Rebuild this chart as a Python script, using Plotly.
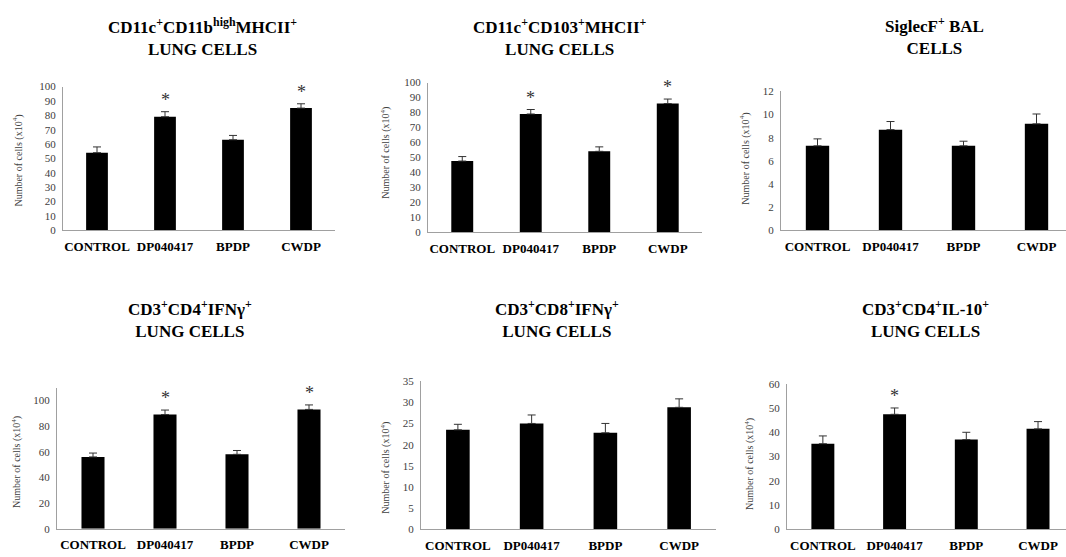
import plotly.graph_objects as go

W, H = 1066, 557

categories = ["CONTROL", "DP040417", "BPDP", "CWDP"]

titles = [
    "<b>CD11c<sup>+</sup>CD11b<sup>high</sup>MHCII<sup>+</sup><br>LUNG CELLS</b>",
    "<b>CD11c<sup>+</sup>CD103<sup>+</sup>MHCII<sup>+</sup><br>LUNG CELLS</b>",
    "<b>SiglecF<sup>+</sup> BAL<br>CELLS</b>",
    "<b>CD3<sup>+</sup>CD4<sup>+</sup>IFNγ<sup>+</sup><br>LUNG CELLS</b>",
    "<b>CD3<sup>+</sup>CD8<sup>+</sup>IFNγ<sup>+</sup><br>LUNG CELLS</b>",
    "<b>CD3<sup>+</sup>CD4<sup>+</sup>IL-10<sup>+</sup><br>LUNG CELLS</b>",
]

cd11b_values = [54, 79, 63, 85]
cd11b_errors = [4, 3.5, 3, 3]
cd11b_sig = [False, True, False, True]

cd103_values = [47.5, 79, 54, 86]
cd103_errors = [3, 3, 3, 3]
cd103_sig = [False, True, False, True]

siglec_values = [7.3, 8.7, 7.3, 9.2]
siglec_errors = [0.6, 0.7, 0.4, 0.85]
siglec_sig = [False, False, False, False]

cd4ifn_values = [56, 89, 58, 93]
cd4ifn_errors = [3, 3.5, 3, 3.5]
cd4ifn_sig = [False, True, False, True]

cd8ifn_values = [23.5, 25, 22.8, 28.8]
cd8ifn_errors = [1.3, 2, 2.2, 2]
cd8ifn_sig = [False, False, False, False]

il10_values = [35.3, 47.4, 37, 41.4]
il10_errors = [3.2, 2.6, 3, 3]
il10_sig = [False, True, False, False]

y_ranges = [[0, 100], [0, 100], [0, 12], [0, 110], [0, 35], [0, 60]]
y_dticks = [10, 10, 2, 20, 5, 10]
y_tickmax = [100, 100, 12, 100, 35, 60]

series = [
    (cd11b_values, cd11b_errors, cd11b_sig),
    (cd103_values, cd103_errors, cd103_sig),
    (siglec_values, siglec_errors, siglec_sig),
    (cd4ifn_values, cd4ifn_errors, cd4ifn_sig),
    (cd8ifn_values, cd8ifn_errors, cd8ifn_sig),
    (il10_values, il10_errors, il10_sig),
]

# layout geometry in pixels: (x0, x1, ytop, ybottom, xrange_max)
geom = [
    (63, 335, 82.3, 229.3, 3.5),
    (428, 702, 78.3, 231, 3.5),
    (781, 1066, 87.3, 229.3, 3.404),
    (57, 345, 390, 534.3, 3.5),
    (421, 716, 383.3, 535, 3.5),
    (787, 1066, 386, 535, 3.39),
]
title_pos = [(202, 32), (560, 32), (934, 31), (190, 320), (557, 320), (925, 320)]
ytitle_pos = [(18, 158), (386, 150), (745, 156), (17, 466), (386, 472), (750, 468)]

SERIF = "Liberation Serif"

fig = go.Figure()
annotations = []
for i, ((vals, errs, sig), (x0, x1, yt, yb, xmax)) in enumerate(zip(series, geom)):
    n = "" if i == 0 else str(i + 1)
    xa, ya = "x" + n, "y" + n
    fig.add_trace(go.Bar(
        x=categories, y=vals, xaxis=xa, yaxis=ya,
        marker=dict(color="black", line=dict(width=0)),
        width=0.32,
        error_y=dict(type="data", array=errs, symmetric=False,
                     arrayminus=[0] * len(errs), color="#333333",
                     thickness=1, width=4),
        showlegend=False,
    ))
    for c, v, e, s in zip(categories, vals, errs, sig):
        if s:
            annotations.append(dict(
                x=c, y=v + e, xref=xa, yref=ya, text="*", showarrow=False,
                yanchor="bottom", yshift=0,
                font=dict(family=SERIF, size=18, color="#333333"),
            ))
    ylo, yhi = y_ranges[i]
    tickvals = list(range(0, y_tickmax[i] + 1, y_dticks[i]))
    fig.update_layout(**{
        ("xaxis" + n): dict(
            domain=[x0 / W, x1 / W], anchor=ya, range=[-0.5, xmax],
            showline=True, linecolor="#a0a0a0", linewidth=1,
            showgrid=False, zeroline=False, ticks="",
            tickvals=categories,
            ticktext=["<b>" + c + "</b>" for c in categories],
            tickfont=dict(family=SERIF, size=13, color="black"),
            ticklabelstandoff=4,
        ),
        ("yaxis" + n): dict(
            domain=[1 - yb / H, 1 - yt / H], anchor=xa, range=[ylo, yhi],
            tickvals=tickvals,
            showline=True, linecolor="#a0a0a0", linewidth=1,
            showgrid=False, zeroline=False, ticks="",
            tickfont=dict(family=SERIF, size=11, color="#404040"),
            ticklabelstandoff=4,
        ),
    })
    tx, ty = title_pos[i]
    annotations.append(dict(
        x=tx / W, y=1 - ty / H, xref="paper", yref="paper", text=titles[i],
        showarrow=False, xanchor="center", yanchor="middle",
        font=dict(family=SERIF, size=17, color="black"),
    ))
    ax_, ay_ = ytitle_pos[i]
    annotations.append(dict(
        x=ax_ / W, y=1 - ay_ / H, xref="paper", yref="paper",
        text="Number of cells (x10<sup>4</sup>)", textangle=-90,
        showarrow=False, xanchor="center", yanchor="middle",
        font=dict(family=SERIF, size=10, color="#404040"),
    ))

fig.update_layout(
    width=W, height=H,
    margin=dict(l=0, r=0, t=0, b=0),
    paper_bgcolor="white", plot_bgcolor="white",
    annotations=annotations,
    bargap=0.68,
)

fig.write_html("out.html")
